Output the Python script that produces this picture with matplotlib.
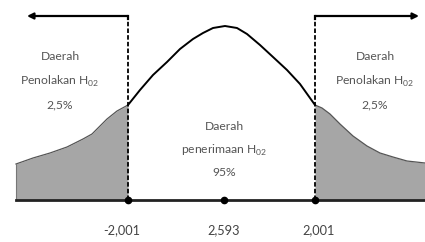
import matplotlib.pyplot as plt

plt.rcParams['font.family'] = ['Lato', 'DejaVu Sans']
plt.rcParams['mathtext.fontset'] = 'custom'
plt.rcParams['mathtext.rm'] = 'Lato'

# curve: x position and height above the baseline
left_x = [16, 33, 50, 67, 83, 92, 99, 107, 117, 128]
left_y = [36, 42, 47, 53, 61, 66, 73, 81, 89, 95]
mid_x = [128, 140, 153, 167, 180, 193, 203, 213, 225, 237, 247, 260, 273, 287, 300, 315]
mid_y = [95, 110, 125, 138, 151, 161, 167, 172, 174, 172, 166, 155, 143, 130, 116, 95]
right_x = [315, 322, 330, 340, 353, 367, 380, 393, 407, 425]
right_y = [95, 92, 86, 76, 64, 54, 47, 43, 39, 37]

crit_x = [128, 315]
crit_top = 184
arrow_ends = [27, 419]
point_x = [128, 224, 315]
tick_labels = ['-2,001', '2,593', '2,001']
tick_x = [122, 224, 319]

side_text = ['Daerah', 'Penolakan H$_{\\mathregular{02}}$', '2,5%']
mid_text = ['Daerah', 'penerimaan H$_{\\mathregular{02}}$', '95%']

fig = plt.figure(figsize=(4.25, 2.42), dpi=100)
ax = fig.add_axes([0, 0, 1, 1])
ax.set_xlim(0, 425)
ax.set_ylim(-42, 200)
ax.axis('off')

# shaded rejection tails
ax.fill_between(left_x, 0, left_y, color='#a6a6a6', lw=0)
ax.fill_between(right_x, 0, right_y, color='#a6a6a6', lw=0)
ax.plot(left_x, left_y, color='#555555', lw=0.9)
ax.plot(right_x, right_y, color='#555555', lw=0.9)
ax.plot([16, 16], [0, left_y[0]], color='#777777', lw=0.8)

# acceptance region curve
ax.plot(mid_x, mid_y, color='black', lw=1.4, solid_joinstyle='round')

# baseline
ax.plot([16, 425], [0, 0], color='#222222', lw=2)

# critical lines and arrows
for cx, end in zip(crit_x, arrow_ends):
    ax.plot([cx, cx], [0, crit_top], color='black', lw=1.3, ls=(0, (2.5, 1.2)))
    ax.annotate('', xy=(end, crit_top), xytext=(cx - 0.6 if end < cx else cx + 0.6, crit_top),
                arrowprops=dict(arrowstyle='-|>', color='black', lw=1.6,
                                mutation_scale=9, shrinkA=0, shrinkB=0))
    ax.plot([cx, cx], [crit_top - 3, crit_top], color='black', lw=1.6)

ax.plot(point_x, [0] * len(point_x), 'o', color='black', ms=4.5)

for tx, lab in zip(tick_x, tick_labels):
    ax.text(tx, -30, lab, ha='center', va='center', fontsize=9.2, color='#444444')

for cx in [60, 375]:
    for yy, s in zip([143, 119, 95], side_text):
        ax.text(cx, yy, s, ha='center', va='center', fontsize=8.7, color='#555555')

for yy, s in zip([73, 50, 27], mid_text):
    ax.text(224, yy, s, ha='center', va='center', fontsize=8.7, color='#555555')

fig.savefig('out.png', dpi=100)
